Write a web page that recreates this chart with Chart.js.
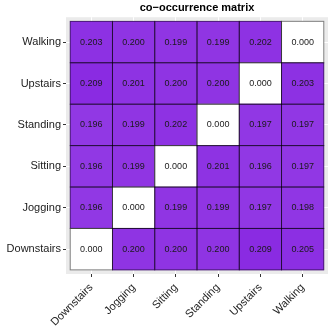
<!DOCTYPE html>
<html>
<head>
<meta charset="utf-8">
<script src="https://cdn.jsdelivr.net/npm/chart.js"></script>
<style>
  body { margin: 0; background: #fff; }
  .wrap { width: 332px; height: 332px; }
</style>
</head>
<body>
<div class="wrap"><canvas id="myChart"></canvas></div>
<script>
  // columns (x) and rows (y, bottom to top)
  var cols = ['Downstairs', 'Jogging', 'Sitting', 'Standing', 'Upstairs', 'Walking'];
  var rows = ['Downstairs', 'Jogging', 'Sitting', 'Standing', 'Upstairs', 'Walking'];

  // one array per row, values left to right
  var downstairsRow = [0.000, 0.200, 0.200, 0.200, 0.209, 0.205];
  var joggingRow    = [0.196, 0.000, 0.199, 0.199, 0.197, 0.198];
  var sittingRow    = [0.196, 0.199, 0.000, 0.201, 0.196, 0.197];
  var standingRow   = [0.196, 0.199, 0.202, 0.000, 0.197, 0.197];
  var upstairsRow   = [0.209, 0.201, 0.200, 0.200, 0.000, 0.203];
  var walkingRow    = [0.203, 0.200, 0.199, 0.199, 0.202, 0.000];

  var matrix = [downstairsRow, joggingRow, sittingRow, standingRow, upstairsRow, walkingRow];
  var maxVal = 0.209;

  // white -> blueviolet
  function fillFor(v) {
    var t = v / maxVal;
    var r = Math.round(255 + (138 - 255) * t);
    var g = Math.round(255 + (43 - 255) * t);
    var b = Math.round(255 + (226 - 255) * t);
    return 'rgb(' + r + ',' + g + ',' + b + ')';
  }

  var datasets = matrix.map(function (vals, r) {
    return {
      label: rows[r],
      data: vals.map(function (v, c) { return { x: c, y: [r, r + 1], v: v }; }),
      backgroundColor: vals.map(fillFor),
      borderWidth: 0,
      grouped: false,
      barPercentage: 1,
      categoryPercentage: 1,
    };
  });

  // grey ggplot panel
  var panelBg = {
    id: 'panelBg',
    beforeDraw: function (chart) {
      var a = chart.chartArea, c = chart.ctx;
      c.save();
      c.fillStyle = '#EBEBEB';
      c.fillRect(a.left, a.top, a.right - a.left, a.bottom - a.top);
      c.restore();
    },
  };

  // tile outlines + values
  var cellText = {
    id: 'cellText',
    afterDatasetsDraw: function (chart) {
      var c = chart.ctx;
      c.save();
      c.strokeStyle = 'rgba(0,0,0,0.5)';
      c.lineWidth = 1;
      c.font = '9px "Liberation Sans", Arial, sans-serif';
      c.fillStyle = '#1a1a1a';
      c.textAlign = 'center';
      c.textBaseline = 'middle';
      chart.data.datasets.forEach(function (ds, i) {
        chart.getDatasetMeta(i).data.forEach(function (bar, j) {
          var top = Math.min(bar.y, bar.base);
          var h = Math.abs(bar.base - bar.y);
          c.strokeRect(bar.x - bar.width / 2, top, bar.width, h);
          c.fillText(ds.data[j].v.toFixed(3), bar.x, top + h / 2);
        });
      });
      c.restore();
    },
  };

  var ctx = document.getElementById('myChart').getContext('2d');
  var myChart = new Chart(ctx, {
    type: 'bar',
    data: { datasets: datasets },
    plugins: [panelBg, cellText],
    options: {
      responsive: true,
      maintainAspectRatio: false,
      animation: false,
      layout: { padding: { left: 0, right: 4, top: 0, bottom: 0 } },
      plugins: {
        legend: { display: false },
        tooltip: { enabled: false },
        title: {
          display: true,
          text: 'co\u2212occurrence matrix',
          fullSize: false,
          color: '#000',
          font: { family: '"Liberation Sans", Arial, sans-serif', size: 11, weight: 'bold' },
          padding: { top: 1, bottom: 3 },
        },
      },
      scales: {
        x: {
          type: 'linear',
          offset: false,
          min: -0.6,
          max: 5.6,
          afterBuildTicks: function (s) { s.ticks = cols.map(function (c, i) { return { value: i }; }); },
          afterFit: function (s) { s.height = 58; },
          ticks: {
            callback: function (v) { return cols[Math.round(v)]; },
            minRotation: 45,
            maxRotation: 45,
            padding: 4,
            color: '#222',
            font: { family: '"Liberation Sans", Arial, sans-serif', size: 11 },
          },
          grid: { offset: false, color: '#fff', lineWidth: 1, tickLength: 3, tickColor: '#333' },
          border: { display: false },
        },
        y: {
          type: 'linear',
          min: -0.1,
          max: 6.1,
          afterBuildTicks: function (s) { s.ticks = rows.map(function (r, i) { return { value: i + 0.5 }; }); },
          afterFit: function (s) { s.width = 66; },
          ticks: {
            callback: function (v) { return rows[Math.round(v - 0.5)]; },
            padding: 2,
            color: '#222',
            font: { family: '"Liberation Sans", Arial, sans-serif', size: 11 },
          },
          grid: { offset: false, color: '#fff', lineWidth: 1, tickLength: 3, tickColor: '#333' },
          border: { display: false },
        },
      },
    },
  });
</script>
</body>
</html>
